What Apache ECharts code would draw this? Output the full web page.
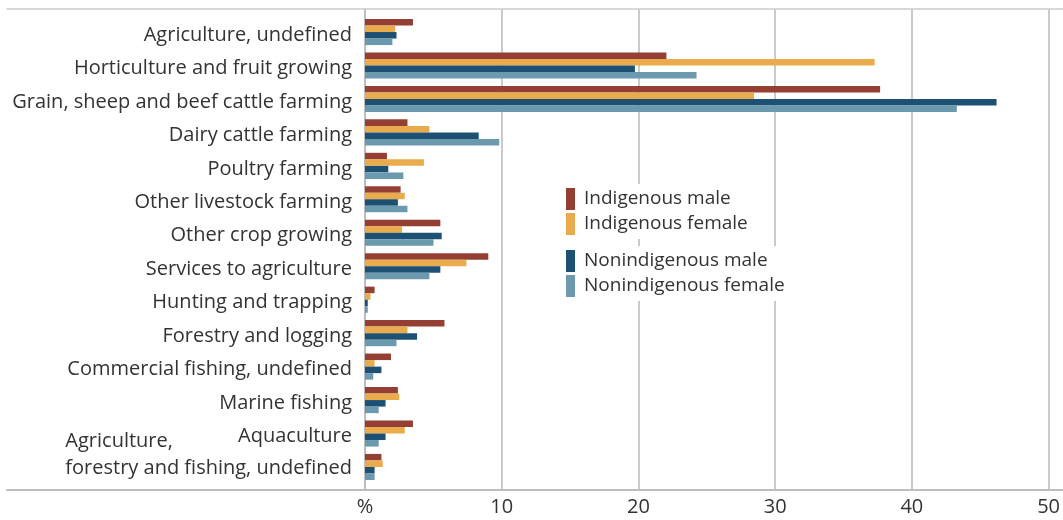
<!DOCTYPE html>
<html>
<head>
<meta charset="utf-8">
<script src="https://cdn.jsdelivr.net/npm/echarts@6/dist/echarts.min.js"></script>
<style>
  html, body { margin: 0; padding: 0; background: #fff; }
  #main { width: 1063px; height: 520px; }
</style>
</head>
<body>
<div id="main"></div>
<script>
// categories, top to bottom
const categories = [
  'Agriculture, undefined',
  'Horticulture and fruit growing',
  'Grain, sheep and beef cattle farming',
  'Dairy cattle farming',
  'Poultry farming',
  'Other livestock farming',
  'Other crop growing',
  'Services to agriculture',
  'Hunting and trapping',
  'Forestry and logging',
  'Commercial fishing, undefined',
  'Marine fishing',
  'Aquaculture',
  'Agriculture,\nforestry and fishing, undefined'
];

// % values per series
const indigenousMale      = [3.5, 22.0, 37.6, 3.1, 1.6, 2.6, 5.5, 9.0, 0.7, 5.8, 1.9, 2.4, 3.5, 1.2];
const indigenousFemale    = [2.2, 37.2, 28.4, 4.7, 4.3, 2.9, 2.7, 7.4, 0.4, 3.1, 0.7, 2.5, 2.9, 1.3];
const nonindigenousMale   = [2.3, 19.7, 46.1, 8.3, 1.7, 2.4, 5.6, 5.5, 0.2, 3.8, 1.2, 1.5, 1.5, 0.7];
const nonindigenousFemale = [2.0, 24.2, 43.2, 9.8, 2.8, 3.1, 5.0, 4.7, 0.2, 2.3, 0.6, 1.0, 1.0, 0.7];

const xTicks = [0, 10, 20, 30, 40, 50];

const FONT = 'Open Sans';
const FS = 20;
const TXT = '#333';
const GRID_COL = '#b8b8b8';

let myChart = echarts.init(document.querySelector('#main'));

// last label is two lines, left-aligned block, sitting a bit higher
const yData = categories.map(function (c, i) {
  if (i === categories.length - 1) {
    return {
      value: c,
      textStyle: { padding: [4, 0, 28, 0] }
    };
  }
  return c;
});

let option = {
  animation: false,
  textStyle: { fontFamily: FONT },
  grid: [
    // bars
    { left: 365, right: 13, top: 15.3, bottom: 36.3 },
    // value axis + grid lines
    { left: 365, right: 13, top: 9, bottom: 30 },
    // long horizontal frame lines
    { left: 7, right: 0, top: 9, bottom: 30 }
  ],
  xAxis: [
    { gridIndex: 0, type: 'value', min: 0, max: 50, show: false },
    {
      gridIndex: 1, type: 'value', min: xTicks[0], max: xTicks[xTicks.length - 1], interval: 10,
      axisLine: { show: false },
      axisTick: { show: false },
      splitLine: { lineStyle: { color: GRID_COL, width: 1.5 } },
      axisLabel: {
        color: TXT, fontSize: FS, fontFamily: FONT, margin: 7,
        formatter: function (v) { return v === 0 ? '%' : v; }
      }
    },
    {
      gridIndex: 2, type: 'value', position: 'bottom',
      axisLine: { show: true, lineStyle: { color: '#bdbdbd', width: 2 } },
      axisTick: { show: false }, axisLabel: { show: false }, splitLine: { show: false }
    },
    {
      gridIndex: 2, type: 'value', position: 'top',
      axisLine: { show: true, lineStyle: { color: '#cccccc', width: 1.5 } },
      axisTick: { show: false }, axisLabel: { show: false }, splitLine: { show: false }
    }
  ],
  yAxis: [
    {
      gridIndex: 0, type: 'category', inverse: true, data: yData,
      axisLine: { show: false },
      axisTick: { show: false },
      axisLabel: {
        interval: 0, hideOverlap: false,
        color: TXT, fontSize: FS, fontFamily: FONT, margin: 13, lineHeight: 27,
        padding: [6, 0, 0, 0],
        formatter: function (v) {
          if (v.indexOf('\n') > -1) {
            return v.split('\n').map(function (s) { return '{l|' + s + '}'; }).join('\n');
          }
          return v;
        },
        rich: { l: { align: 'left', fontSize: FS, fontFamily: FONT, color: TXT, lineHeight: 27 } }
      }
    },
    {
      gridIndex: 1, type: 'value', min: 0, max: 1,
      axisLine: { show: true, lineStyle: { color: '#bdbdbd', width: 2 } },
      axisTick: { show: false }, axisLabel: { show: false }, splitLine: { show: false }
    },
    {
      gridIndex: 2, type: 'value', show: false
    }
  ],
  legend: [
    {
      data: ['Indigenous male', 'Indigenous female'],
      orient: 'vertical', left: 561, top: 184,
      icon: 'rect', itemWidth: 9, itemHeight: 22, itemGap: 3,
      padding: [4, 8, 4, 5],
      backgroundColor: '#fff',
      selectedMode: false,
      textStyle: { color: TXT, fontSize: 19, fontFamily: FONT, padding: [0, 0, 0, 4] }
    },
    {
      data: ['Nonindigenous male', 'Nonindigenous female'],
      orient: 'vertical', left: 561, top: 246,
      icon: 'rect', itemWidth: 9, itemHeight: 22, itemGap: 3,
      padding: [4, 8, 4, 5],
      backgroundColor: '#fff',
      selectedMode: false,
      textStyle: { color: TXT, fontSize: 19, fontFamily: FONT, padding: [0, 0, 0, 4] }
    }
  ],
  series: [
    { name: 'Indigenous male', type: 'bar', data: indigenousMale, itemStyle: { color: '#953E33' }, barGap: '0%', barCategoryGap: '22%' },
    { name: 'Indigenous female', type: 'bar', data: indigenousFemale, itemStyle: { color: '#E9AB4B' }, barGap: '0%', barCategoryGap: '22%' },
    { name: 'Nonindigenous male', type: 'bar', data: nonindigenousMale, itemStyle: { color: '#1D5073' }, barGap: '0%', barCategoryGap: '22%' },
    { name: 'Nonindigenous female', type: 'bar', data: nonindigenousFemale, itemStyle: { color: '#6B9AAF' }, barGap: '0%', barCategoryGap: '22%' }
  ]
};

myChart.setOption(option);
</script>
</body>
</html>
